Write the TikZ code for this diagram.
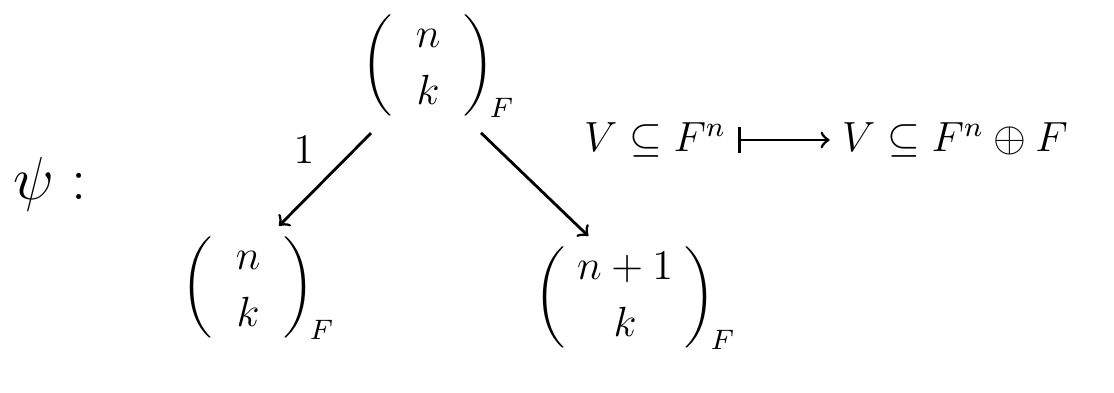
\documentclass[tikz,border=0pt]{standalone}
\usepackage{amsmath, amssymb}
\usepackage{tikz}

\begin{document}
\begin{tikzpicture}[scale=1.0, arr/.style={thick, ->, shorten <=6pt, shorten >=4pt}, bin/.style={font=\large, inner sep=0pt}]
        \useasboundingbox (0,0) rectangle (11.14,-3.92);
        \node[font=\LARGE] (psi) at (0.5,-1.84) {$\psi :$};
        \node[bin] (top) at (4.38,-0.66) {$\dbinom{\;\;n\;\;}{\;\;k\;\;}_{\!F}$};
        \node[bin] (left) at (2.58,-2.88) {$\dbinom{\;\;n\;\;}{\;\;k\;\;}_{\!F}$};
        \node[bin] (right) at (6.35,-2.98) {$\dbinom{\;n+1\;}{k}_{\!F}$};
        \draw[arr] (top.225) -- (left.78) node[midway, above left] {\large $1$};
        \draw[arr] (top.-62) -- (right.125);
        \node[font=\large] (src) at (6.55,-1.4) {$V \subseteq F^n$};
        \node[font=\large] (tgt) at (9.55,-1.4) {$V \subseteq F^n \oplus F$};
        \draw[thick, |->] (src) -- (tgt);
      \end{tikzpicture}
\end{document}
